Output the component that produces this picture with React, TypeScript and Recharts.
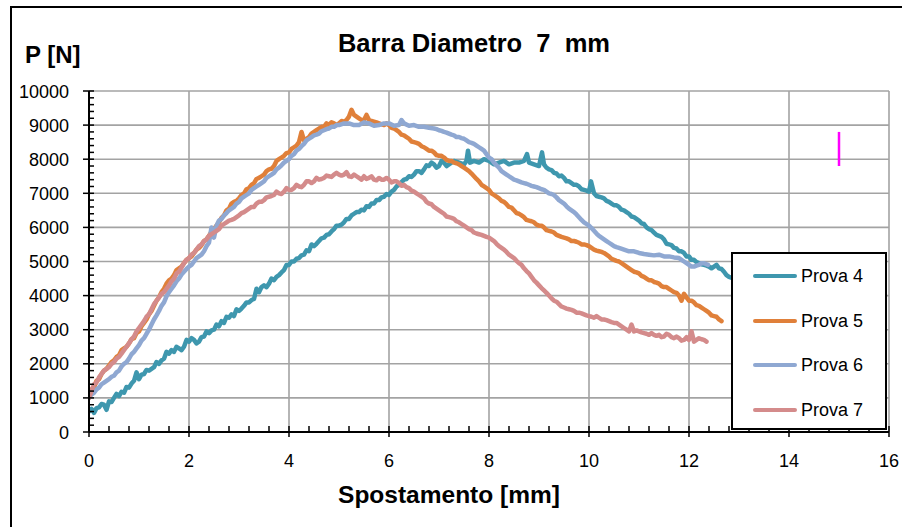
import React from 'react';
import { LineChart, Line, XAxis, YAxis, CartesianGrid, Legend } from 'recharts';

// Displacement [mm] / load [N] pairs for each test
const prova4: number[][] = [
  [0, 600], [0.05, 680], [0.1, 560], [0.15, 700], [0.2, 720], [0.25, 820], [0.3, 800], [0.35, 650],
  [0.4, 900], [0.45, 880], [0.5, 1000], [0.55, 1120], [0.6, 1050], [0.65, 1180], [0.7, 1150],
  [0.75, 1320], [0.8, 1300], [0.85, 1420], [0.9, 1500], [0.95, 1750], [1.0, 1550], [1.05, 1680],
  [1.1, 1700], [1.15, 1820], [1.2, 1800], [1.25, 1850], [1.3, 1900], [1.35, 2050], [1.4, 2000],
  [1.45, 2100], [1.5, 2150], [1.55, 2350], [1.6, 2300], [1.65, 2400], [1.7, 2350], [1.75, 2500],
  [1.8, 2450], [1.85, 2400], [1.9, 2500], [1.95, 2700], [2.0, 2650], [2.05, 2750], [2.1, 2700],
  [2.15, 2600], [2.2, 2650], [2.25, 2780], [2.3, 2800], [2.35, 2950], [2.4, 2900], [2.45, 2980],
  [2.5, 3000], [2.55, 3150], [2.6, 3100], [2.65, 3250], [2.7, 3200], [2.75, 3380], [2.8, 3350],
  [2.85, 3450], [2.9, 3400], [2.95, 3600], [3.0, 3550], [3.05, 3620], [3.1, 3700], [3.15, 3800],
  [3.2, 3800], [3.25, 3870], [3.3, 3900], [3.35, 4200], [3.4, 4100], [3.45, 4250], [3.5, 4300],
  [3.55, 4250], [3.6, 4350], [3.65, 4500], [3.7, 4450], [3.75, 4550], [3.8, 4600], [3.85, 4680],
  [3.9, 4750], [3.95, 4900], [4.0, 4900], [4.05, 5000], [4.1, 5000], [4.15, 5080], [4.2, 5100],
  [4.25, 5180], [4.3, 5200], [4.35, 5330], [4.4, 5300], [4.45, 5500], [4.5, 5450], [4.55, 5520],
  [4.6, 5600], [4.65, 5680], [4.7, 5700], [4.75, 5780], [4.8, 5800], [4.85, 5880], [4.9, 5950],
  [4.95, 6050], [5.0, 6050], [5.05, 6080], [5.1, 6150], [5.15, 6250], [5.2, 6250], [5.25, 6350],
  [5.3, 6400], [5.35, 6450], [5.4, 6450], [5.45, 6520], [5.5, 6500], [5.55, 6620], [5.6, 6600],
  [5.65, 6700], [5.7, 6700], [5.75, 6800], [5.8, 6800], [5.85, 6880], [5.9, 6900], [5.95, 6980],
  [6.0, 6950], [6.05, 7050], [6.1, 7100], [6.15, 7200], [6.2, 7250], [6.25, 7330], [6.3, 7400],
  [6.35, 7420], [6.4, 7500], [6.45, 7480], [6.5, 7550], [6.55, 7650], [6.6, 7650], [6.65, 7600],
  [6.7, 7700], [6.75, 7820], [6.8, 7800], [6.85, 7900], [6.9, 7850], [6.95, 7750], [7.0, 7800],
  [7.05, 7950], [7.1, 7900], [7.15, 7800], [7.2, 7850], [7.3, 7950], [7.4, 7900], [7.5, 7850],
  [7.55, 7950], [7.58, 8250], [7.62, 7900], [7.7, 7950], [7.8, 7900], [7.9, 8000], [8.0, 7950],
  [8.1, 7850], [8.2, 7900], [8.3, 7950], [8.4, 7850], [8.5, 7900], [8.6, 7900], [8.7, 7950],
  [8.76, 8150], [8.8, 7900], [8.9, 7850], [9.0, 7800], [9.06, 8200], [9.1, 7850], [9.15, 7750],
  [9.2, 7700], [9.25, 7680], [9.3, 7600], [9.35, 7580], [9.4, 7500], [9.45, 7520], [9.5, 7450],
  [9.55, 7350], [9.6, 7350], [9.65, 7300], [9.7, 7250], [9.75, 7250], [9.8, 7200], [9.85, 7120],
  [9.9, 7100], [9.95, 7080], [10.0, 7050], [10.04, 7350], [10.1, 7000], [10.15, 6920], [10.2, 6900],
  [10.25, 6880], [10.3, 6850], [10.35, 6780], [10.4, 6750], [10.45, 6700], [10.5, 6650],
  [10.55, 6650], [10.6, 6600], [10.65, 6520], [10.7, 6500], [10.75, 6450], [10.8, 6400],
  [10.85, 6320], [10.9, 6300], [10.95, 6250], [11.0, 6200], [11.05, 6120], [11.1, 6100],
  [11.15, 6000], [11.2, 5950], [11.25, 5920], [11.3, 5850], [11.35, 5780], [11.4, 5750],
  [11.45, 5720], [11.5, 5650], [11.55, 5520], [11.6, 5500], [11.65, 5480], [11.7, 5400],
  [11.75, 5380], [11.8, 5300], [11.85, 5300], [11.9, 5250], [11.95, 5150], [12.0, 5150],
  [12.05, 5050], [12.1, 5050], [12.15, 4980], [12.2, 4950], [12.25, 4920], [12.3, 4900],
  [12.35, 4880], [12.4, 4850], [12.45, 4800], [12.5, 4850], [12.55, 4900], [12.6, 4800],
  [12.65, 4780], [12.7, 4700], [12.75, 4600], [12.8, 4550], [12.9, 4500],
];

const prova5: number[][] = [
  [0, 1100], [0.05, 1250], [0.1, 1300], [0.15, 1500], [0.2, 1550], [0.25, 1700], [0.3, 1800],
  [0.35, 1850], [0.4, 1950], [0.45, 2050], [0.5, 2100], [0.55, 2200], [0.6, 2250], [0.65, 2400],
  [0.7, 2450], [0.75, 2500], [0.8, 2600], [0.85, 2720], [0.9, 2750], [0.95, 2900], [1.0, 2950],
  [1.05, 3100], [1.1, 3200], [1.15, 3300], [1.2, 3450], [1.25, 3550], [1.3, 3700], [1.35, 3850],
  [1.4, 3950], [1.45, 4100], [1.5, 4200], [1.55, 4350], [1.6, 4450], [1.65, 4500], [1.7, 4600],
  [1.75, 4750], [1.8, 4800], [1.85, 4850], [1.9, 4950], [1.95, 5050], [2.0, 5100], [2.05, 5150],
  [2.1, 5250], [2.15, 5350], [2.2, 5400], [2.25, 5480], [2.3, 5600], [2.35, 5650], [2.4, 5750],
  [2.45, 5880], [2.5, 5950], [2.55, 6050], [2.6, 6150], [2.65, 6280], [2.7, 6350], [2.75, 6500],
  [2.8, 6550], [2.85, 6700], [2.9, 6750], [2.95, 6780], [3.0, 6850], [3.05, 6950], [3.1, 7000],
  [3.15, 7120], [3.2, 7150], [3.25, 7250], [3.3, 7300], [3.35, 7420], [3.4, 7450], [3.45, 7500],
  [3.5, 7550], [3.55, 7650], [3.6, 7700], [3.65, 7720], [3.7, 7800], [3.75, 7950], [3.8, 8000],
  [3.85, 8050], [3.9, 8100], [3.95, 8180], [4.0, 8200], [4.05, 8300], [4.1, 8350], [4.15, 8400],
  [4.2, 8500], [4.25, 8800], [4.3, 8550], [4.35, 8600], [4.4, 8650], [4.45, 8750], [4.5, 8800],
  [4.55, 8850], [4.6, 8900], [4.65, 8950], [4.7, 8950], [4.75, 9050], [4.8, 9000], [4.85, 9080],
  [4.9, 9050], [4.95, 9000], [5.0, 9050], [5.05, 9120], [5.1, 9100], [5.15, 9150], [5.2, 9250],
  [5.25, 9450], [5.3, 9300], [5.35, 9250], [5.4, 9200], [5.45, 9150], [5.5, 9150], [5.55, 9300],
  [5.6, 9150], [5.65, 9120], [5.7, 9100], [5.75, 9080], [5.8, 9050], [5.85, 9020], [5.9, 9000],
  [5.95, 9050], [6.0, 9000], [6.05, 8920], [6.1, 8900], [6.15, 8850], [6.2, 8800], [6.25, 8720],
  [6.3, 8700], [6.35, 8650], [6.4, 8600], [6.45, 8520], [6.5, 8500], [6.55, 8480], [6.6, 8450],
  [6.65, 8380], [6.7, 8350], [6.75, 8300], [6.8, 8250], [6.85, 8250], [6.9, 8200], [6.95, 8120],
  [7.0, 8100], [7.05, 8100], [7.1, 8050], [7.15, 7980], [7.2, 7950], [7.25, 7950], [7.3, 7900],
  [7.35, 7880], [7.4, 7850], [7.45, 7800], [7.5, 7750], [7.55, 7700], [7.6, 7650], [7.65, 7580],
  [7.7, 7500], [7.75, 7420], [7.8, 7350], [7.85, 7250], [7.9, 7200], [7.95, 7150], [8.0, 7100],
  [8.05, 7000], [8.1, 6950], [8.15, 6900], [8.2, 6850], [8.25, 6780], [8.3, 6750], [8.35, 6680],
  [8.4, 6600], [8.45, 6580], [8.5, 6500], [8.55, 6420], [8.6, 6400], [8.65, 6350], [8.7, 6300],
  [8.75, 6220], [8.8, 6200], [8.85, 6180], [8.9, 6150], [8.95, 6080], [9.0, 6050], [9.05, 6050],
  [9.1, 6000], [9.15, 5920], [9.2, 5900], [9.25, 5880], [9.3, 5850], [9.35, 5780], [9.4, 5750],
  [9.45, 5720], [9.5, 5700], [9.55, 5680], [9.6, 5650], [9.65, 5600], [9.7, 5600], [9.75, 5580],
  [9.8, 5550], [9.85, 5500], [9.9, 5500], [9.95, 5480], [10.0, 5450], [10.05, 5400], [10.1, 5350],
  [10.15, 5320], [10.2, 5300], [10.25, 5280], [10.3, 5250], [10.35, 5200], [10.4, 5150],
  [10.45, 5080], [10.5, 5050], [10.55, 5020], [10.6, 5000], [10.65, 4950], [10.7, 4900],
  [10.75, 4850], [10.8, 4800], [10.85, 4750], [10.9, 4700], [10.95, 4680], [11.0, 4650],
  [11.05, 4580], [11.1, 4550], [11.15, 4500], [11.2, 4450], [11.25, 4450], [11.3, 4400],
  [11.35, 4380], [11.4, 4350], [11.45, 4280], [11.5, 4250], [11.55, 4250], [11.6, 4200],
  [11.65, 4150], [11.7, 4100], [11.75, 4080], [11.8, 4000], [11.85, 3850], [11.9, 4050],
  [11.95, 3950], [12.0, 3850], [12.05, 3850], [12.1, 3800], [12.15, 3720], [12.2, 3700],
  [12.25, 3650], [12.3, 3600], [12.35, 3550], [12.4, 3500], [12.45, 3420], [12.5, 3400],
  [12.55, 3380], [12.6, 3300], [12.65, 3250],
];

const prova6: number[][] = [
  [0, 1000], [0.05, 1100], [0.1, 1150], [0.15, 1250], [0.2, 1300], [0.25, 1400], [0.3, 1450],
  [0.35, 1500], [0.4, 1550], [0.45, 1620], [0.5, 1650], [0.55, 1750], [0.6, 1800], [0.65, 1920],
  [0.7, 2000], [0.75, 2050], [0.8, 2150], [0.85, 2280], [0.9, 2350], [0.95, 2450], [1.0, 2550],
  [1.05, 2680], [1.1, 2750], [1.15, 2880], [1.2, 3000], [1.25, 3150], [1.3, 3300], [1.35, 3420],
  [1.4, 3550], [1.45, 3700], [1.5, 3800], [1.55, 3980], [1.6, 4100], [1.65, 4200], [1.7, 4300],
  [1.75, 4420], [1.8, 4500], [1.85, 4620], [1.9, 4700], [1.95, 4780], [2.0, 4850], [2.05, 4900],
  [2.1, 5000], [2.15, 5100], [2.2, 5150], [2.25, 5200], [2.3, 5300], [2.35, 5450], [2.4, 5550],
  [2.45, 6000], [2.5, 5700], [2.55, 6050], [2.6, 6200], [2.65, 6250], [2.7, 6350], [2.75, 6420],
  [2.8, 6500], [2.85, 6550], [2.9, 6600], [2.95, 6700], [3.0, 6750], [3.05, 6850], [3.1, 6900],
  [3.15, 6950], [3.2, 7000], [3.25, 7100], [3.3, 7150], [3.35, 7200], [3.4, 7250], [3.45, 7300],
  [3.5, 7350], [3.55, 7450], [3.6, 7500], [3.65, 7550], [3.7, 7600], [3.75, 7700], [3.8, 7750],
  [3.85, 7820], [3.9, 7900], [3.95, 7950], [4.0, 8000], [4.05, 8100], [4.1, 8150], [4.15, 8250],
  [4.2, 8300], [4.25, 8380], [4.3, 8450], [4.35, 8550], [4.4, 8600], [4.45, 8650], [4.5, 8700],
  [4.55, 8720], [4.6, 8750], [4.65, 8820], [4.7, 8850], [4.75, 8880], [4.8, 8900], [4.85, 8950],
  [4.9, 8950], [4.95, 9000], [5.0, 9000], [5.1, 9050], [5.2, 9050], [5.3, 9000], [5.4, 9000],
  [5.5, 9080], [5.6, 9050], [5.7, 8980], [5.8, 9000], [5.9, 9050], [6.0, 9050], [6.1, 8980],
  [6.2, 9000], [6.25, 9150], [6.3, 9050], [6.4, 8980], [6.5, 9000], [6.6, 8950], [6.7, 8950],
  [6.8, 8920], [6.9, 8900], [6.95, 8880], [7.0, 8850], [7.05, 8830], [7.1, 8800], [7.15, 8780],
  [7.2, 8750], [7.25, 8720], [7.3, 8700], [7.35, 8650], [7.4, 8650], [7.45, 8620], [7.5, 8600],
  [7.55, 8550], [7.6, 8500], [7.65, 8480], [7.7, 8450], [7.75, 8400], [7.8, 8350], [7.85, 8300],
  [7.9, 8250], [7.95, 8150], [8.0, 8050], [8.05, 8000], [8.1, 7900], [8.15, 7820], [8.2, 7750],
  [8.25, 7650], [8.3, 7600], [8.35, 7550], [8.4, 7500], [8.45, 7450], [8.5, 7400], [8.55, 7380],
  [8.6, 7350], [8.65, 7320], [8.7, 7300], [8.75, 7280], [8.8, 7250], [8.85, 7220], [8.9, 7200],
  [8.95, 7180], [9.0, 7150], [9.05, 7120], [9.1, 7100], [9.15, 7050], [9.2, 7000], [9.25, 6980],
  [9.3, 6950], [9.35, 6880], [9.4, 6800], [9.45, 6750], [9.5, 6700], [9.55, 6620], [9.6, 6550],
  [9.65, 6500], [9.7, 6450], [9.75, 6380], [9.8, 6300], [9.85, 6220], [9.9, 6150], [9.95, 6100],
  [10.0, 6050], [10.05, 5980], [10.1, 5900], [10.15, 5820], [10.2, 5750], [10.25, 5700],
  [10.3, 5650], [10.35, 5600], [10.4, 5550], [10.45, 5500], [10.5, 5450], [10.55, 5420],
  [10.6, 5400], [10.7, 5350], [10.8, 5300], [10.9, 5300], [11.0, 5250], [11.1, 5220], [11.2, 5200],
  [11.3, 5180], [11.4, 5200], [11.5, 5150], [11.6, 5150], [11.7, 5120], [11.8, 5100], [11.85, 5050],
  [11.9, 5000], [11.95, 4950], [12.0, 4900], [12.05, 4850], [12.1, 4850], [12.15, 4880],
  [12.2, 4900], [12.25, 4950], [12.3, 4950], [12.38, 4900],
];

const prova7: number[][] = [
  [0, 1000], [0.05, 1200], [0.1, 1400], [0.15, 1450], [0.2, 1600], [0.25, 1700], [0.3, 1800],
  [0.35, 1850], [0.4, 1900], [0.45, 2000], [0.5, 2050], [0.55, 2150], [0.6, 2200], [0.65, 2300],
  [0.7, 2400], [0.75, 2500], [0.8, 2600], [0.85, 2720], [0.9, 2800], [0.95, 2950], [1.0, 3050],
  [1.05, 3150], [1.1, 3250], [1.15, 3380], [1.2, 3450], [1.25, 3600], [1.3, 3750], [1.35, 3850],
  [1.4, 3950], [1.45, 4050], [1.5, 4100], [1.55, 4200], [1.6, 4300], [1.65, 4420], [1.7, 4500],
  [1.75, 4650], [1.8, 4700], [1.85, 4820], [1.9, 4950], [1.95, 5050], [2.0, 5100], [2.05, 5200],
  [2.1, 5250], [2.15, 5350], [2.2, 5450], [2.25, 5500], [2.3, 5600], [2.35, 5650], [2.4, 5750],
  [2.45, 5800], [2.5, 5850], [2.55, 5900], [2.6, 5950], [2.65, 6050], [2.7, 6100], [2.75, 6150],
  [2.8, 6200], [2.85, 6220], [2.9, 6250], [2.95, 6300], [3.0, 6350], [3.05, 6420], [3.1, 6450],
  [3.15, 6500], [3.2, 6550], [3.25, 6600], [3.3, 6600], [3.35, 6700], [3.4, 6750], [3.45, 6750],
  [3.5, 6800], [3.55, 6880], [3.6, 6900], [3.65, 6920], [3.7, 6950], [3.75, 7050], [3.8, 7000],
  [3.85, 6980], [3.9, 7050], [3.95, 7150], [4.0, 7100], [4.05, 7100], [4.1, 7150], [4.15, 7250],
  [4.2, 7200], [4.25, 7180], [4.3, 7250], [4.35, 7350], [4.4, 7350], [4.45, 7300], [4.5, 7350],
  [4.55, 7450], [4.6, 7400], [4.65, 7420], [4.7, 7450], [4.75, 7520], [4.8, 7500], [4.85, 7480],
  [4.9, 7550], [4.95, 7600], [5.0, 7550], [5.05, 7520], [5.1, 7550], [5.15, 7620], [5.2, 7500],
  [5.25, 7480], [5.3, 7550], [5.35, 7500], [5.4, 7450], [5.45, 7400], [5.5, 7500], [5.55, 7420],
  [5.6, 7450], [5.65, 7500], [5.7, 7400], [5.75, 7380], [5.8, 7450], [5.85, 7400], [5.9, 7400],
  [5.95, 7450], [6.0, 7400], [6.05, 7320], [6.1, 7350], [6.15, 7350], [6.2, 7300], [6.25, 7220],
  [6.3, 7250], [6.35, 7180], [6.4, 7150], [6.45, 7080], [6.5, 7050], [6.55, 7000], [6.6, 6950],
  [6.65, 6900], [6.7, 6850], [6.75, 6750], [6.8, 6700], [6.85, 6680], [6.9, 6600], [6.95, 6550],
  [7.0, 6500], [7.05, 6450], [7.1, 6400], [7.15, 6320], [7.2, 6300], [7.25, 6280], [7.3, 6250],
  [7.35, 6180], [7.4, 6150], [7.45, 6100], [7.5, 6050], [7.55, 6000], [7.6, 5950], [7.65, 5920],
  [7.7, 5850], [7.75, 5820], [7.8, 5800], [7.85, 5780], [7.9, 5750], [7.95, 5720], [8.0, 5700],
  [8.05, 5650], [8.1, 5600], [8.15, 5520], [8.2, 5450], [8.25, 5400], [8.3, 5350], [8.35, 5280],
  [8.4, 5200], [8.45, 5150], [8.5, 5100], [8.55, 5020], [8.6, 4950], [8.65, 4900], [8.7, 4800],
  [8.75, 4720], [8.8, 4650], [8.85, 4550], [8.9, 4450], [8.95, 4380], [9.0, 4300], [9.05, 4220],
  [9.1, 4150], [9.15, 4080], [9.2, 4000], [9.25, 3920], [9.3, 3850], [9.35, 3820], [9.4, 3750],
  [9.45, 3680], [9.5, 3650], [9.55, 3620], [9.6, 3600], [9.65, 3580], [9.7, 3550], [9.75, 3500],
  [9.8, 3500], [9.85, 3480], [9.9, 3450], [9.95, 3420], [10.0, 3400], [10.05, 3380], [10.1, 3350],
  [10.15, 3400], [10.2, 3350], [10.25, 3300], [10.3, 3300], [10.35, 3280], [10.4, 3250],
  [10.45, 3220], [10.5, 3200], [10.55, 3200], [10.6, 3150], [10.65, 3100], [10.7, 3050],
  [10.75, 3000], [10.8, 2950], [10.85, 3150], [10.9, 2950], [10.95, 2980], [11.0, 2950],
  [11.05, 2920], [11.1, 2900], [11.15, 2880], [11.2, 2850], [11.25, 2900], [11.3, 2850],
  [11.35, 2820], [11.4, 2850], [11.45, 2780], [11.5, 2800], [11.55, 2880], [11.6, 2850],
  [11.65, 2780], [11.7, 2750], [11.75, 2800], [11.8, 2750], [11.85, 2680], [11.9, 2700],
  [11.95, 2780], [12.0, 2700], [12.05, 2950], [12.1, 2650], [12.15, 2700], [12.2, 2750],
  [12.25, 2720], [12.3, 2700], [12.35, 2650],
];

// Short vertical marker at 15 mm
const marker: number[][] = [[15, 7800], [15, 8800]];

const seriesNames = ['Prova 4', 'Prova 5', 'Prova 6', 'Prova 7'];
const seriesColors = ['#3E97AE', '#E0803A', '#8FA8D2', '#D48B8B'];

const xMajorTicks = [0, 2, 4, 6, 8, 10, 12, 14, 16];
const yMajorTicks = [0, 1000, 2000, 3000, 4000, 5000, 6000, 7000, 8000, 9000, 10000];

const titleText = 'Barra Diametro\u00a0 7\u00a0 mm';
const xTitle = 'Spostamento [mm]';
const yTitle = 'P [N]';

const MINOR_DIV = 5;

// Each major interval split into five minor steps
const withMinor = (majors: number[]) => {
  const out: number[] = [];
  for (let i = 0; i < majors.length - 1; i++) {
    const a = majors[i];
    const b = majors[i + 1];
    for (let k = 0; k < MINOR_DIV; k++) out.push(a + ((b - a) * k) / MINOR_DIV);
  }
  out.push(majors[majors.length - 1]);
  return out;
};

const xTicks = withMinor(xMajorTicks);
const yTicks = withMinor(yMajorTicks);

const toPts = (pairs: number[][]) => pairs.map(([x, y]) => ({ x, y }));

const FONT = '"Liberation Sans", Arial, sans-serif';

const isMajor = (v: number, majors: number[]) => majors.some((m) => Math.abs(m - v) < 1e-6);

const XTick = (props: any) => {
  const { x, y, payload } = props;
  const v = payload.value;
  const major = isMajor(v, xMajorTicks);
  return (
    <g>
      <line x1={x} x2={x} y1={y - 6} y2={major ? y + 5 : y} stroke="#000" strokeWidth={1.5} />
      {major && (
        <text x={x} y={y + 35} textAnchor="middle" fontFamily={FONT} fontSize={18} fill="#000">
          {v}
        </text>
      )}
    </g>
  );
};

const YTick = (props: any) => {
  const { x, y, payload } = props;
  const v = payload.value;
  const major = isMajor(v, yMajorTicks);
  return (
    <g>
      <line x1={major ? x - 6 : x} x2={x + 5} y1={y} y2={y} stroke="#000" strokeWidth={1.5} />
      {major && (
        <text x={x - 20} y={y + 6.5} textAnchor="end" fontFamily={FONT} fontSize={18} fill="#000">
          {v}
        </text>
      )}
    </g>
  );
};

const LegendBox = (props: any) => {
  const items = (props.payload || []).filter((p: any) => p.type !== 'none');
  return (
    <div
      style={{
        width: 156,
        height: 178,
        boxSizing: 'border-box',
        border: '2px solid #000',
        background: '#fff',
        position: 'relative',
        fontFamily: FONT,
      }}
    >
      {items.map((p: any, i: number) => (
        <div key={p.value} style={{ position: 'absolute', left: 0, top: 22 + i * 44.7 - 12, height: 24, width: '100%' }}>
          <div
            style={{
              position: 'absolute',
              left: 20,
              top: 10,
              width: 44,
              height: 4,
              borderRadius: 2,
              background: p.color,
            }}
          />
          <span style={{ position: 'absolute', left: 68, top: 1, fontSize: 18, lineHeight: '22px', color: '#000', whiteSpace: 'nowrap' }}>
            {p.value}
          </span>
        </div>
      ))}
    </div>
  );
};

const allSeries = [prova4, prova5, prova6, prova7];

export default function App() {
  return (
    <div style={{ position: 'fixed', left: 0, top: 0, width: 902, height: 527, overflow: 'hidden', background: '#fff' }}>
      <div
        style={{
          position: 'absolute',
          left: 10,
          top: 6,
          width: 900,
          height: 560,
          borderLeft: '2px solid #000',
          borderTop: '2px solid #000',
        }}
      />
      <div style={{ position: 'absolute', left: 0, top: 0 }}>
        <LineChart width={902} height={527} margin={{ top: 91, right: 13, bottom: 35, left: 29 }}>
          <CartesianGrid
            stroke="#a3a3a3"
            strokeWidth={1.6}
            horizontalValues={yMajorTicks.slice(1)}
            verticalValues={xMajorTicks.slice(1)}
          />
          <XAxis
            type="number"
            dataKey="x"
            domain={[0, 16]}
            ticks={xTicks}
            interval={0}
            tickSize={0}
            tickMargin={0}
            tickLine={false}
            tick={<XTick />}
            axisLine={{ stroke: '#000', strokeWidth: 2 }}
            height={60}
            allowDataOverflow
          />
          <YAxis
            type="number"
            dataKey="y"
            domain={[0, 10000]}
            ticks={yTicks}
            interval={0}
            tickSize={0}
            tickMargin={0}
            tickLine={false}
            tick={<YTick />}
            axisLine={{ stroke: '#000', strokeWidth: 2 }}
            width={60}
            allowDataOverflow
          />
          {allSeries.map((s, i) => (
            <Line
              key={seriesNames[i]}
              data={toPts(s)}
              dataKey="y"
              name={seriesNames[i]}
              type="linear"
              stroke={seriesColors[i]}
              strokeWidth={4.5}
              strokeLinejoin="round"
              strokeLinecap="round"
              dot={false}
              activeDot={false}
              isAnimationActive={false}
            />
          ))}
          <Line
            data={toPts(marker)}
            dataKey="y"
            name="marker"
            stroke="#FF00FF"
            strokeWidth={2.5}
            dot={false}
            activeDot={false}
            legendType="none"
            isAnimationActive={false}
          />
          <Legend
            content={<LegendBox />}
            layout="vertical"
            align="center"
            verticalAlign="middle"
            wrapperStyle={{ left: 731, top: 252, width: 156, height: 178 }}
          />
          <text x={474} y={52} textAnchor="middle" fontFamily={FONT} fontWeight="bold" fontSize={25.5} fill="#000">
            {titleText}
          </text>
          <text x={25} y={63} fontFamily={FONT} fontWeight="bold" fontSize={24} fill="#000">
            {yTitle}
          </text>
          <text x={449} y={503} textAnchor="middle" fontFamily={FONT} fontWeight="bold" fontSize={24.5} fill="#000">
            {xTitle}
          </text>
        </LineChart>
      </div>
    </div>
  );
}
